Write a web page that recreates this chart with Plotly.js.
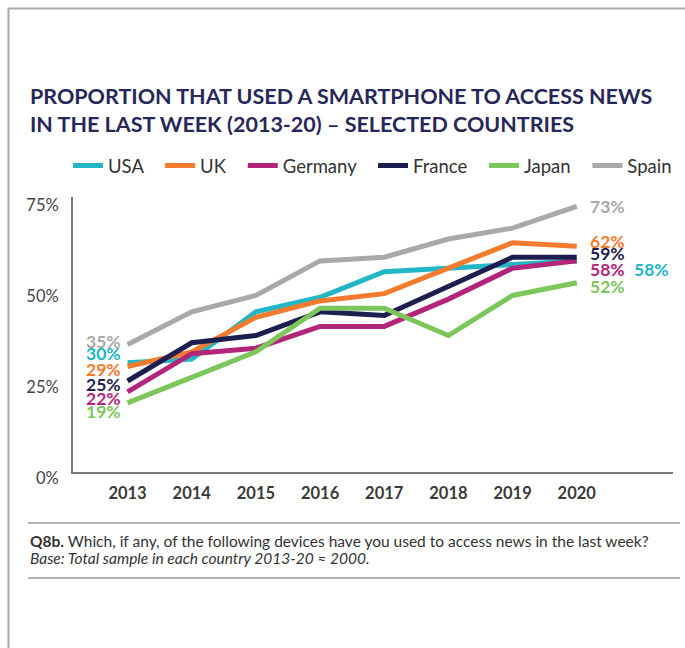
<!DOCTYPE html>
<html>
<head>
<meta charset="utf-8">
<script src="https://cdn.plot.ly/plotly-3.0.1.min.js"></script>
<style>
html,body{margin:0;padding:0;background:#fff;}
#chart{width:685px;height:648px;}
</style>
</head>
<body>
<div id="chart"></div>
<script>
// ---- data ----
const years = [2013, 2014, 2015, 2016, 2017, 2018, 2019, 2020];
const countries = ["USA", "UK", "Germany", "France", "Japan", "Spain"];
const usa     = [30, 31, 44, 48, 55, 56, 57, 58];
const uk      = [29, 33, 42.5, 47, 49, 56, 63, 62];
const germany = [22, 32.5, 34, 40, 40, 47.5, 56, 58];
const france  = [25, 35.5, 37.5, 44, 43, 51, 59, 59];
const japan   = [19, 26, 33, 45, 45, 37.5, 48.5, 52];
const spain   = [35, 44, 48.5, 58, 59, 64, 67, 73];
const startLabels = ["30%", "29%", "22%", "25%", "19%", "35%"];
const endLabels   = ["58%", "62%", "58%", "59%", "52%", "73%"];
const yTicks = [0, 25, 50, 75];
const yTickText = ["0%", "25%", "50%", "75%"];

// ---- styling ----
const series = [usa, uk, germany, france, japan, spain];
const colors = ["#22b6c6", "#f47b2e", "#b3257a", "#1d1e50", "#7cc65c", "#a9a9a9"];
const startShift = [9, -2.6, -7, -3, -9, 3.6];   // px vertical offsets of label text
const endShift   = [-9, 5, -9, 4, -4, 0];
const endXShift  = [55, 11, 11, 11, 11, 11];
const pad = "\u00a0\u00a0\u2009";  // extra spacing after legend entries

const L = 73, R = 673, T = 197, B = 472;
const px = x => (x - L) / (R - L);
const py = y => (B - y) / (B - T);

const traces = series.map((vals, i) => ({
  type: "scatter", mode: "lines", name: countries[i] + (i < series.length - 1 ? pad : ""),
  x: years, y: vals,
  line: {color: colors[i], width: 5},
  hoverinfo: "skip"
}));

const annotations = [];
series.forEach((vals, i) => {
  annotations.push({
    x: years[0], y: vals[0], xref: "x", yref: "y",
    text: startLabels[i], showarrow: false,
    xanchor: "right", yanchor: "middle", xshift: -5, yshift: startShift[i],
    font: {family: "Lato", size: 17.5, color: colors[i], weight: 700}
  });
  annotations.push({
    x: years[years.length - 1], y: vals[vals.length - 1], xref: "x", yref: "y",
    text: endLabels[i], showarrow: false,
    xanchor: "left", yanchor: "middle", xshift: endXShift[i], yshift: endShift[i],
    font: {family: "Lato", size: 17.5, color: colors[i], weight: 700}
  });
});
annotations.push({
  xref: "paper", yref: "paper", x: px(28), y: py(541), xanchor: "left", yanchor: "middle",
  showarrow: false, align: "left",
  text: "<b>Q8b.</b> Which, if any, of the following devices have you used to access news in the last week?",
  font: {family: "Lato", size: 15.5, color: "#333"}
});
annotations.push({
  xref: "paper", yref: "paper", x: px(28), y: py(558), xanchor: "left", yanchor: "middle",
  showarrow: false, align: "left",
  text: "<i>Base: Total sample in each country 2013-20 ≈ 2000.</i>",
  font: {family: "Lato", size: 15.5, color: "#333"}
});

const shapes = [
  {type: "line", xref: "paper", yref: "paper", x0: px(8), x1: px(690), y0: py(8.5), y1: py(8.5), line: {color: "#aaaaaa", width: 2}},
  {type: "line", xref: "paper", yref: "paper", x0: px(8.5), x1: px(8.5), y0: py(8), y1: py(660), line: {color: "#aaaaaa", width: 2}},
  {type: "line", xref: "paper", yref: "paper", x0: px(28), x1: px(680), y0: py(523), y1: py(523), line: {color: "#9a9a9a", width: 1.5}},
  {type: "line", xref: "paper", yref: "paper", x0: px(28), x1: px(680), y0: py(578), y1: py(578), line: {color: "#9a9a9a", width: 1.5}}
];

const layout = {
  width: 685, height: 648,
  margin: {l: L, r: 685 - R, t: T, b: 648 - B},
  paper_bgcolor: "#fff", plot_bgcolor: "#fff",
  showlegend: true,
  title: {
    text: "PROPORTION THAT USED A SMARTPHONE TO ACCESS NEWS<br>IN THE LAST WEEK (2013-20) – SELECTED COUNTRIES",
    xref: "container", yref: "container", x: 30 / 685, xanchor: "left",
    y: 1 - 104 / 648, yanchor: "top",
    font: {family: "Lato", size: 21.5, color: "#272759", weight: 700}
  },
  legend: {
    orientation: "h", x: px(68), xanchor: "left", y: py(166), yanchor: "middle",
    font: {family: "Lato", size: 18.5, color: "#333"},
    itemwidth: 30, bgcolor: "rgba(0,0,0,0)"
  },
  xaxis: {
    range: [2012.15, 2021.5], tickvals: years, ticktext: years.map(String),
    showgrid: false, zeroline: false, showline: true, linecolor: "#7a7a7a", linewidth: 2,
    ticks: "", ticklabelstandoff: 5,
    tickfont: {family: "Lato", size: 16.5, color: "#3a3a3a", weight: 700},
    fixedrange: true
  },
  yaxis: {
    range: [0, 75.55], tickvals: yTicks, ticktext: yTickText,
    showgrid: false, zeroline: false, showline: true, linecolor: "#7a7a7a", linewidth: 2,
    ticks: "", ticklabelstandoff: 9, ticklabelshift: 6,
    tickfont: {family: "Lato", size: 16.5, color: "#444"},
    fixedrange: true
  },
  annotations: annotations,
  shapes: shapes,
  hovermode: false
};

Plotly.newPlot("chart", traces, layout, {displayModeBar: false, staticPlot: true});
</script>
</body>
</html>
